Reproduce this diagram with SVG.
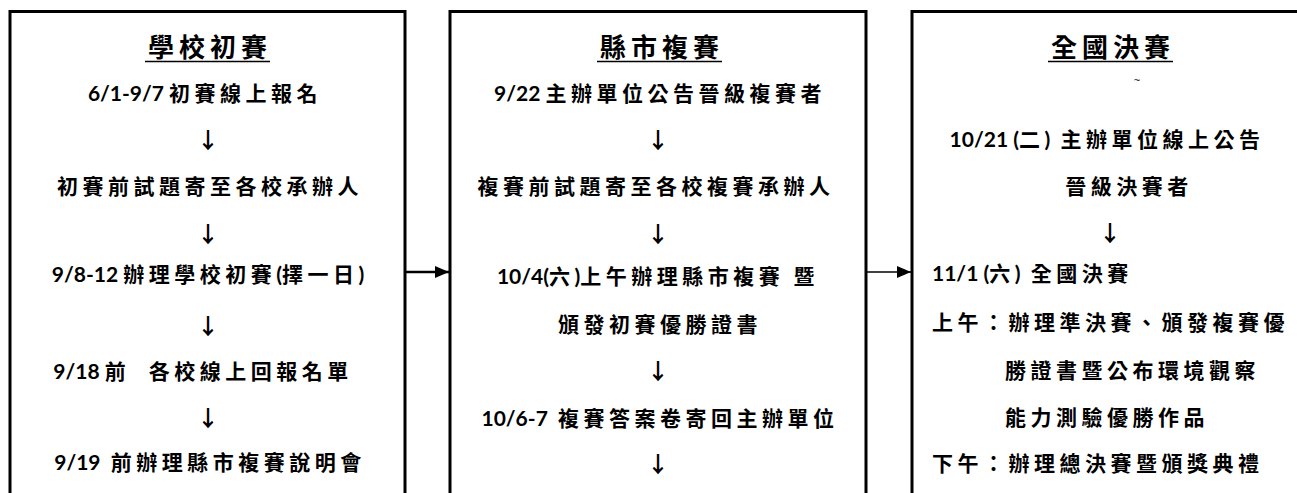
<svg xmlns="http://www.w3.org/2000/svg" width="1297" height="493" viewBox="0 0 1297 493">
<defs>
<style>
.box{fill:none;stroke:#000;stroke-width:3}
.t{font-family:"Noto Sans CJK TC","Noto Sans CJK SC",sans-serif;font-size:21px;font-weight:bold;fill:#000;letter-spacing:4.5px}
.d{font-family:Lato,"Liberation Sans",sans-serif;font-weight:bold;font-size:21px;letter-spacing:0}
.ttl{font-family:"Noto Sans CJK TC","Noto Sans CJK SC",sans-serif;font-size:26px;font-weight:bold;fill:#000;letter-spacing:5px}
.ul{stroke:#000;stroke-width:1.6}
.ar{font-family:"Noto Sans CJK TC","DejaVu Sans",sans-serif;font-size:22px;font-weight:bold;fill:#000}
.c{text-anchor:middle}
.conn{stroke:#000;fill:none}
</style>
<marker id="ah" markerWidth="14" markerHeight="12" refX="14" refY="6" orient="auto" markerUnits="userSpaceOnUse">
<path d="M0,0 L14,6 L0,12 Z" fill="#000"/>
</marker>
</defs>
<rect width="1297" height="493" fill="#fff"/>

<g id="node-school">
<path class="box" d="M10,493 V11.5 H405 V493"/>
<text class="ttl c" x="210" y="57">學校初賽</text>
<line class="ul" x1="145" y1="61.5" x2="270" y2="61.5"/>
<text class="t c" x="205" y="101"><tspan class="d">6/1-9/7&#160;</tspan>初賽線上報名</text>
<text class="ar c" x="208" y="148">↓</text>
<text class="t c" x="210" y="194">初賽前試題寄至各校承辦人</text>
<text class="ar c" x="208" y="242">↓</text>
<text class="t c" x="208" y="282"><tspan class="d">9/8-12&#160;</tspan>辦理學校初賽<tspan class="d">(</tspan>擇一日<tspan class="d">)</tspan></text>
<text class="ar c" x="208" y="334">↓</text>
<text class="t c" x="203" y="379"><tspan class="d">9/18&#160;</tspan>前&#160;&#160;各校線上回報名單</text>
<text class="ar c" x="208" y="426">↓</text>
<text class="t c" x="210" y="470"><tspan class="d">9/19&#160;&#160;</tspan>前辦理縣市複賽說明會</text>
</g>

<g id="node-county">
<path class="box" d="M450,493 V11.5 H866 V493"/>
<text class="ttl c" x="662" y="57">縣市複賽</text>
<line class="ul" x1="597" y1="61.5" x2="722" y2="61.5"/>
<text class="t c" x="660" y="101"><tspan class="d">9/22&#160;</tspan>主辦單位公告晉級複賽者</text>
<text class="ar c" x="658" y="148">↓</text>
<text class="t c" x="656" y="194">複賽前試題寄至各校複賽承辦人</text>
<text class="ar c" x="658" y="242">↓</text>
<text class="t c" x="658" y="284"><tspan class="d">10/4(</tspan>六<tspan class="d">)</tspan>上午辦理縣市複賽&#160;暨</text>
<text class="t c" x="660" y="332">頒發初賽優勝證書</text>
<text class="ar c" x="658" y="379">↓</text>
<text class="t c" x="660" y="426"><tspan class="d">10/6-7&#160;&#160;</tspan>複賽答案卷寄回主辦單位</text>
<text class="ar c" x="658" y="472">↓</text>
</g>

<g id="node-national">
<path class="box" d="M912,493 V11.5 H1297"/>
<text class="ttl c" x="1113" y="57">全國決賽</text>
<line class="ul" x1="1048" y1="61.5" x2="1173" y2="61.5"/>
<text x="1137" y="84" font-family="Liberation Sans,sans-serif" font-size="11" fill="#000" text-anchor="middle">~</text>
<text class="t c" x="1107" y="147"><tspan class="d">10/21&#160;(</tspan>二<tspan class="d">)&#160;&#160;</tspan>主辦單位線上公告</text>
<text class="t c" x="1129" y="194">晉級決賽者</text>
<text class="ar c" x="1110" y="241">↓</text>
<text class="t" x="932" y="281"><tspan class="d">11/1&#160;(</tspan>六<tspan class="d">)&#160;&#160;</tspan>全國決賽</text>
<text class="t" x="932" y="330">上午：辦理準決賽、頒發複賽優</text>
<text class="t" x="1005" y="378">勝證書暨公布環境觀察</text>
<text class="t" x="1005" y="425">能力測驗優勝作品</text>
<text class="t" x="932" y="471">下午：辦理總決賽暨頒獎典禮</text>
</g>

<g id="connectors">
<line class="conn" x1="405" y1="272" x2="449" y2="272" stroke-width="2.5" marker-end="url(#ah)"/>
<line class="conn" x1="866" y1="272" x2="911" y2="272" stroke-width="1.6" marker-end="url(#ah)"/>
</g>
</svg>
